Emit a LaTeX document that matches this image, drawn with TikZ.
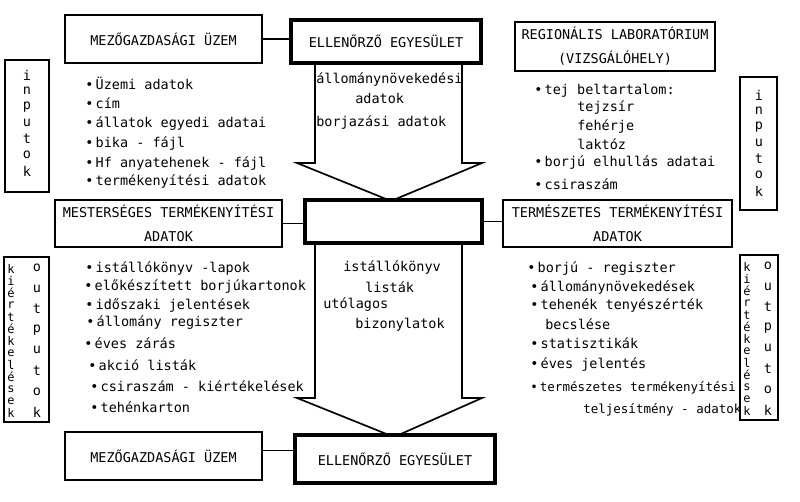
\documentclass[tikz,border=0pt]{standalone}
\usepackage{fontspec}
\setmainfont{DejaVu Sans Mono}
\newlength\dpx
\setlength\dpx{0.025cm}
\tikzset{
  box/.style={draw, line width=0.8pt, fill=white, align=center, inner sep=0pt},
  boldbox/.style={box, line width=2.2pt},
  item/.style={anchor=west, inner sep=0pt},
  letter/.style={inner sep=0pt},
  tightletter/.style={inner sep=0pt, font=\fontsize{8.5}{10}\selectfont},
  flow/.style={draw, line width=1.2pt, fill=white, line join=miter}
}

\begin{document}
\begin{tikzpicture}[x=0.025cm, y=-0.025cm, font=\fontsize{9.6}{17}\selectfont]
    \useasboundingbox (0,0) rectangle (800,501);

    % Draw the two big arrows first
    \path[flow] (315,63) -- (315,163) -- (297,163) -- (391,201) -- (482,163) -- (462,163) -- (462,63);
    \path[flow] (315,243) -- (315,398) -- (297,398) -- (394,437) -- (482,398) -- (462,398) -- (462,243);

    % Boxes
    \node[box, minimum width=197\dpx, minimum height=48\dpx] (farmtop) at (163.5,39) {MEZŐGAZDASÁGI ÜZEM};
    \node[boldbox, minimum width=190\dpx, minimum height=43\dpx] (ctrltop) at (386,41.5) {ELLENŐRZŐ EGYESÜLET};
    \node[box, minimum width=200\dpx, minimum height=49\dpx] (lab) at (615,46.5) {REGIONÁLIS LABORATÓRIUM\\(VIZSGÁLÓHELY)};
    \node[box, minimum width=227\dpx, minimum height=47\dpx] (art) at (168.5,223.5) {MESTERSÉGES TERMÉKENYÍTÉSI\\ADATOK};
    \node[boldbox, minimum width=177\dpx, minimum height=43\dpx] (hub) at (393.5,221.5) {};
    \node[box, minimum width=229\dpx, minimum height=47\dpx] (nat) at (617.5,223.5) {TERMÉSZETES TERMÉKENYÍTÉSI\\ADATOK};
    \node[box, minimum width=197\dpx, minimum height=48\dpx] (farmbot) at (163.5,456) {MEZŐGAZDASÁGI ÜZEM};
    \node[boldbox, minimum width=200\dpx, minimum height=48\dpx] (ctrlbot) at (395,459) {ELLENŐRZŐ EGYESÜLET};

    % Side boxes
    \node[box, minimum width=44\dpx, minimum height=132\dpx] (inleft) at (27,126) {};
    \node[box, minimum width=37\dpx, minimum height=133\dpx] (inright) at (758.5,143.5) {};
    \node[box, minimum width=45\dpx, minimum height=165\dpx] (outleft) at (26.5,339.5) {};
    \node[box, minimum width=38\dpx, minimum height=165\dpx] (outright) at (759,337.5) {};

    % Connectors
    \draw[line width=0.8pt] (farmtop.east) -- (farmtop.east -| ctrltop.west);
    \draw[line width=0.8pt] (art.east) -- (art.east -| hub.west);
    \draw[line width=0.8pt] (hub.east) -- (hub.east -| nat.west);
    \draw[line width=0.8pt] ([yshift=4pt]farmbot.east) -- ([yshift=4pt]farmbot.east -| ctrlbot.west);

    % Vertical words
    \foreach \l [count=\i] in {i,n,p,u,t,o,k} {
        \node[letter] (inl\i) at (27,{75+16*(\i-1)}) {\l};
        \node[letter] (inr\i) at (759,{95+16*(\i-1)}) {\l};
    }
    \foreach \l [count=\i] in {k,i,é,r,t,é,k,e,l,é,s,e,k} {
        \node[tightletter] (evl\i) at (11,{269+12*(\i-1)}) {\l};
        \node[tightletter] (evr\i) at (747,{267+12*(\i-1)}) {\l};
    }
    \foreach \l [count=\i] in {o,u,t,p,u,t,o,k} {
        \node[letter] (outl\i) at (37,{268+20.6*(\i-1)}) {\l};
        \node[letter] (outr\i) at (768,{266+20.6*(\i-1)}) {\l};
    }

    % Upper left list
    \node[item] (ul1) at (85,83) {\textbullet\,Üzemi adatok};
    \node[item] (ul2) at (85,103) {\textbullet\,cím};
    \node[item] (ul3) at (85,124) {\textbullet\,állatok egyedi adatai};
    \node[item] (ul4) at (85,144) {\textbullet\,bika - fájl};
    \node[item] (ul5) at (85,163) {\textbullet\,Hf anyatehenek - fájl};
    \node[item] (ul6) at (85,181) {\textbullet\,termékenyítési adatok};

    % Text in the upper arrow
    \node[item] (ua1) at (316,80) {állománynövekedési};
    \node[item] (ua2) at (355,98) {adatok};
    \node[item] (ua3) at (316,123) {borjazási adatok};

    % Upper right list
    \node[item] (ur1) at (534,91) {\textbullet\,tej beltartalom:};
    \node[item] (ur2) at (577,108) {tejzsír};
    \node[item] (ur3) at (577,127) {fehérje};
    \node[item] (ur4) at (577,144) {laktóz};
    \node[item] (ur5) at (534,162) {\textbullet\,borjú elhullás adatai};
    \node[item] (ur6) at (534,184) {\textbullet\,csiraszám};

    % Lower left list
    \node[item] (ll1) at (85,268) {\textbullet\,istállókönyv -lapok};
    \node[item] (ll2) at (84,286) {\textbullet\,előkészített borjúkartonok};
    \node[item] (ll3) at (85,305) {\textbullet\,időszaki jelentések};
    \node[item] (ll4) at (86,323) {\textbullet\,állomány regiszter};
    \node[item] (ll5) at (84,343) {\textbullet\,éves zárás};
    \node[item] (ll6) at (88,365) {\textbullet\,akció listák};
    \node[item] (ll7) at (90,386) {\textbullet\,csiraszám - kiértékelések};
    \node[item] (ll8) at (90,407) {\textbullet\,tehénkarton};

    % Text in the lower arrow
    \node[item] (la1) at (343,267) {istállókönyv};
    \node[item] (la2) at (365,287) {listák};
    \node[item] (la3) at (323,305) {utólagos};
    \node[item] (la4) at (355,325) {bizonylatok};

    % Lower right list
    \node[item] (lr1) at (527,269) {\textbullet\,borjú - regiszter};
    \node[item] (lr2) at (530,287) {\textbullet\,állománynövekedések};
    \node[item] (lr3) at (530,305) {\textbullet\,tehenék tenyészérték};
    \node[item] (lr4) at (545,324) {becslése};
    \node[item] (lr5) at (530,343) {\textbullet\,statisztikák};
    \node[item] (lr6) at (530,364) {\textbullet\,éves jelentés};
    \node[item, font=\fontsize{8.9}{11}\selectfont] (lr7) at (530,388) {\textbullet\,természetes termékenyítési};
    \node[item, font=\fontsize{8.9}{11}\selectfont] (lr8) at (583,410) {teljesítmény - adatok};
\end{tikzpicture}
\end{document}
